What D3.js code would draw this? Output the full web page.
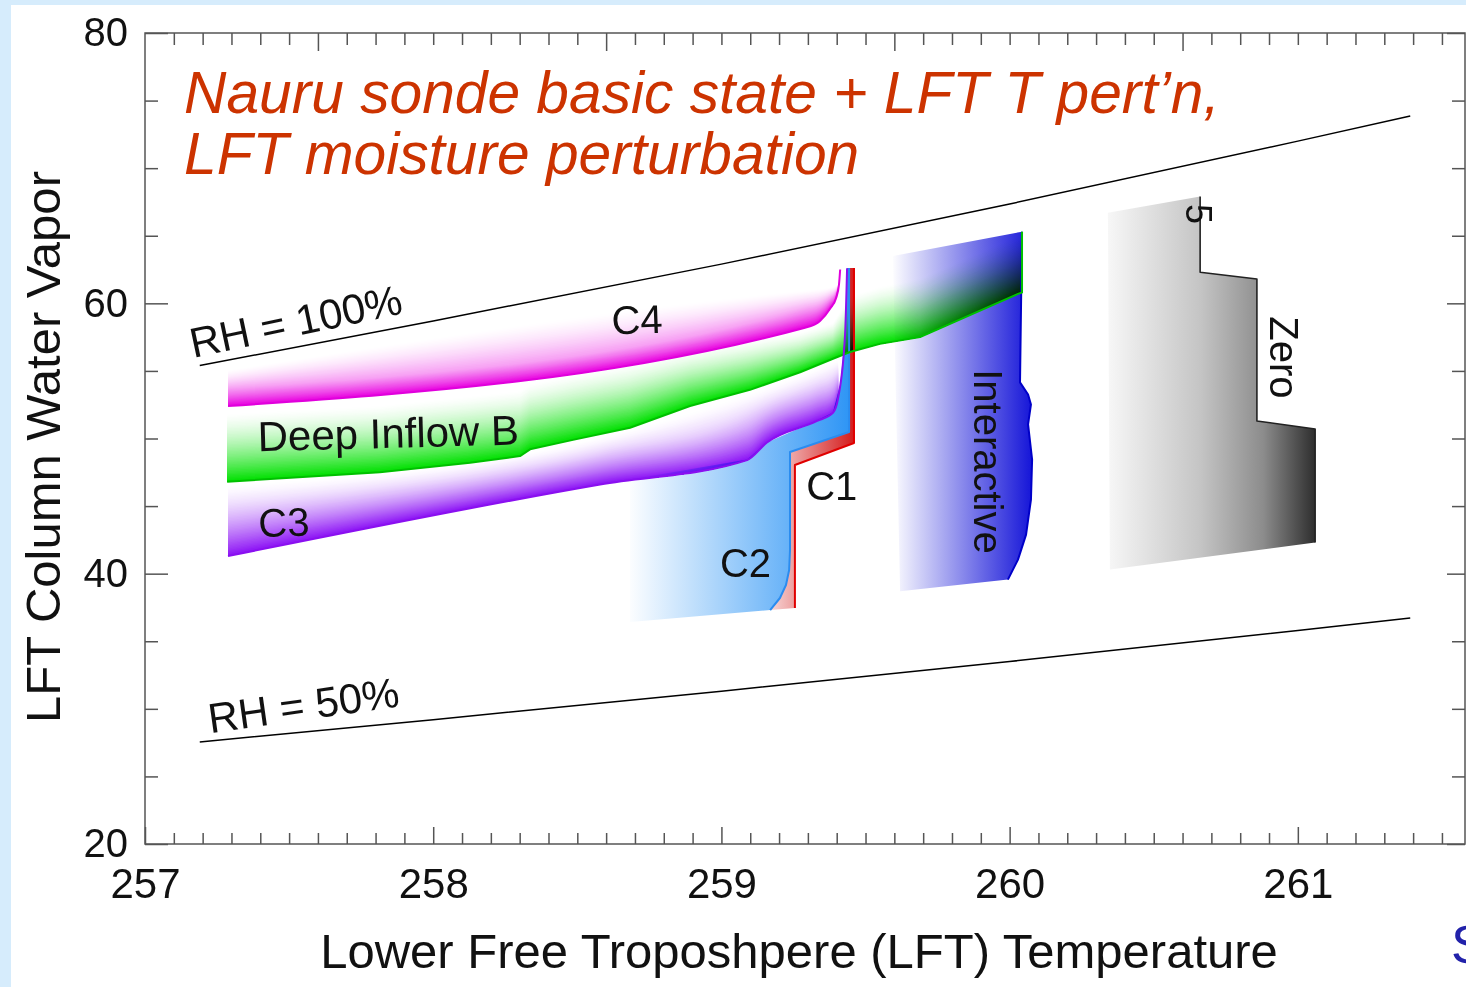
<!DOCTYPE html>
<html>
<head>
<meta charset="utf-8">
<script src="https://cdn.jsdelivr.net/npm/d3@7"></script>
<style>
html, body { margin: 0; padding: 0; background: #d6ecfc; }
svg { display: block; }
text { font-family: "Liberation Sans", Arial, Helvetica, sans-serif; }
</style>
</head>
<body>
<script>
const d3 = window.d3;
const width = 1466, height = 987;

// axis ticks
const xTickLabels = [257, 258, 259, 260, 261];
const yTickLabels = [20, 40, 60, 80];

// saturation curves
const rhT = [257.19, 258, 259, 260, 261, 261.39];
const rh100W = [55.4, 58.7, 62.9, 67.35, 72.0, 73.86];
const rh50W = [27.55, 29.2, 31.3, 33.5, 35.8, 36.72];

// C4: lower edge (strong) and upper edge (faded)
const c4T = [257.288, 259.290, 259.342, 259.377, 259.398, 259.408];
const c4Lo = [52.4, 58.2, 58.7, 59.6, 60.4, 61.4];
const c4Hi = [55.1, 61.0, 61.1, 61.2, 61.3, 61.4];
const c4Tip = [259.412, 62.5];

// Deep Inflow B
const dibT = [257.285, 257.815, 258.128, 258.301, 258.336, 258.485, 258.683, 258.891, 259.099, 259.273, 259.387, 259.446, 259.550, 259.689, 260.029, 260.043];
const dibLo = [46.8, 47.5, 48.2, 48.7, 49.2, 49.9, 50.8, 52.4, 53.6, 54.9, 55.9, 56.4, 57.0, 57.5, 60.7, 60.8];
const dibHi = [51.9, 52.5, 53.2, 53.6, 54.1, 54.8, 55.6, 56.6, 57.3, 57.9, 58.6, 60.6, 61.3, 61.9, 65.1, 65.3];
const dibTip = [260.043, 65.3];

// C3
const c3T = [257.288, 258.579, 259.089, 259.158, 259.332, 259.387, 259.405];
const c3Lo = [41.3, 46.6, 48.4, 49.7, 51.3, 51.9, 53.0];
const c3Hi = [46.6, 50.1, 53.3, 53.8, 55.2, 55.7, 55.8];
const c3TipT = [259.429, 259.436];
const c3TipW = [57.7, 62.6];

// C2: upper boundary, right boundary (blue line), lower-left corner
const c2TopT = [258.683, 259.089, 259.158, 259.332, 259.387, 259.412, 259.429, 259.436];
const c2TopW = [46.96, 48.44, 49.70, 51.33, 51.93, 54.0, 57.7, 62.61];
const c2EdgeT = [259.443, 259.443, 259.238, 259.238, 259.235, 259.224, 259.203, 259.169];
const c2EdgeW = [62.61, 50.48, 49.0, 41.75, 40.27, 39.16, 38.2, 37.31];
const c2Corner = [258.683, 36.42];

// C1: right boundary (red line)
const c1EdgeT = [259.460, 259.460, 259.255, 259.255];
const c1EdgeW = [62.61, 49.67, 48.04, 37.46];

// Interactive
const intEdgeT = [260.043, 260.036, 260.064, 260.074, 260.064, 260.078, 260.074, 260.057, 260.029, 259.994];
const intEdgeW = [65.3, 54.15, 53.26, 52.52, 51.04, 48.44, 45.48, 42.89, 41.04, 39.56];
const intTopLeft = [259.595, 63.5];
const intBottomLeft = [259.620, 38.7];

// Zero
const zeroEdgeT = [260.661, 260.661, 260.858, 260.858, 261.060, 261.060];
const zeroEdgeW = [67.9, 62.3, 61.8, 51.3, 50.7, 42.3];
const zeroTopLeft = [260.341, 66.7];
const zeroBottomLeft = [260.348, 40.3];

const svg = d3.select("body")
    .append("svg")
    .attr("width", width)
    .attr("height", height);

svg.append("rect")
    .attr("x", 11).attr("y", 5)
    .attr("width", width - 11).attr("height", height - 5)
    .attr("fill", "#fff");

const defs = svg.append("defs");

const x = d3.scaleLinear().domain([257, 261.58]).range([145, 1465]);
const y = d3.scaleLinear().domain([20, 80]).range([844, 33]);

const line = d3.line().x(d => x(d[0])).y(d => y(d[1]));

function hGradient(id, t0, t1, stops) {
    const g = defs.append("linearGradient")
        .attr("id", id)
        .attr("gradientUnits", "userSpaceOnUse")
        .attr("x1", x(t0)).attr("x2", x(t1))
        .attr("y1", 0).attr("y2", 0);
    stops.forEach(([o, c]) => g.append("stop").attr("offset", o).attr("stop-color", c));
}

function region(pts, gradId) {
    svg.append("path")
        .attr("d", line(pts) + "Z")
        .attr("fill", `url(#${gradId})`)
        .style("mix-blend-mode", "multiply");
}

// band fading from colour at the lower edge to white at the upper edge
function band(T, lo, hi, color, curve, n = 48) {
    const g = svg.append("g").style("mix-blend-mode", "multiply");
    const fade = d3.interpolateRgb(color, "#fff");
    const pts = T.map((t, i) => ({t, lo: lo[i], hi: hi[i]}));
    for (let k = n - 1; k >= 0; k--) {
        const f = (k + 1) / n;
        const s = (k + 0.5) / n;
        g.append("path")
            .attr("d", d3.area()
                .curve(curve)
                .x(d => x(d.t))
                .y0(d => y(d.lo))
                .y1(d => y(d.lo + (d.hi - d.lo) * f))(pts))
            .attr("fill", fade(1 - Math.pow(1 - s, 1.5)));
    }
}

function edge(pts, color, w, curve = d3.curveLinear) {
    svg.append("path")
        .attr("d", d3.line().curve(curve).x(d => x(d[0])).y(d => y(d[1]))(pts))
        .attr("fill", "none")
        .attr("stroke", color)
        .attr("stroke-width", w)
        .attr("stroke-linejoin", "round");
}

hGradient("gZero", 260.34, 261.06, [[0, "#f7f7f7"], [0.45, "#c4c4c4"], [0.75, "#8c8c8c"], [1, "#2e2e2e"]]);
hGradient("gInt", 259.59, 260.08, [[0, "#ffffff"], [1, "#1414d8"]]);
hGradient("gC2", 258.67, 259.445, [[0, "#ffffff"], [1, "#2e95f5"]]);
hGradient("gC1", 259.15, 259.46, [[0, "#f9e2e2"], [1, "#d41c1c"]]);

const zeroEdge = d3.zip(zeroEdgeT, zeroEdgeW);
const intEdge = d3.zip(intEdgeT, intEdgeW);
const c2Edge = d3.zip(c2EdgeT, c2EdgeW);
const c1Edge = d3.zip(c1EdgeT, c1EdgeW);

region([zeroTopLeft, ...zeroEdge, zeroBottomLeft], "gZero");
region([intTopLeft, ...intEdge, intBottomLeft], "gInt");
region([...d3.zip(c2TopT, c2TopW), ...c2Edge, c2Corner], "gC2");
region([...c2Edge, ...c1Edge.slice().reverse()], "gC1");

band(c4T, c4Lo, c4Hi, "#e800e0", d3.curveMonotoneX);
band(dibT, dibLo, dibHi, "#00e000", d3.curveLinear);
band(c3T, c3Lo, c3Hi, "#8c12f5", d3.curveMonotoneX);

edge(zeroEdge, "#222", 1.6);
edge(intEdge, "#0000c8", 2);
edge(c2Edge, "#2a8cf0", 2);
edge(c1Edge, "#e00000", 2);
edge([...d3.zip(c4T, c4Lo), c4Tip], "#e000dc", 2, d3.curveMonotoneX);
edge([...d3.zip(dibT, dibLo), dibTip], "#00c000", 2);
edge([...d3.zip(c3T, c3Lo), ...d3.zip(c3TipT, c3TipW)], "#8a10f0", 2, d3.curveMonotoneX);

edge(d3.zip(rhT, rh100W), "#000", 1.5, d3.curveMonotoneX);
edge(d3.zip(rhT, rh50W), "#000", 1.5, d3.curveMonotoneX);

// labels, anchored in data units
const labels = [
    {text: "C4", t: 258.62, w: 57.7, rot: -2, size: 40},
    {text: "Deep Inflow B", t: 257.392, w: 49.05, rot: -1.5, size: 42},
    {text: "C3", t: 257.395, w: 42.7, rot: -2, size: 40},
    {text: "C2", t: 258.995, w: 39.75, rot: 0, size: 40},
    {text: "C1", t: 259.294, w: 45.45, rot: 0, size: 40},
    {text: "RH = 100%", t: 257.167, w: 55.95, rot: -12, size: 42},
    {text: "RH = 50%", t: 257.226, w: 28.2, rot: -8, size: 42},
];
labels.forEach(l => {
    svg.append("text")
        .attr("transform", `translate(${x(l.t)},${y(l.w)}) rotate(${l.rot})`)
        .attr("font-size", l.size)
        .attr("fill", "#111")
        .text(l.text);
});

const vLabels = [
    {text: "Interactive", t: 259.877, w: 48.3, size: 40},
    {text: "Zero", t: 260.905, w: 56.0, size: 40},
    {text: "5", t: 260.612, w: 66.6, size: 36},
];
vLabels.forEach(l => {
    svg.append("text")
        .attr("transform", `translate(${x(l.t)},${y(l.w)}) rotate(90)`)
        .attr("text-anchor", "middle")
        .attr("font-size", l.size)
        .attr("fill", "#111")
        .text(l.text);
});

// axes
const xMinor = d3.range(2571, 2616).filter(v => v % 10 !== 0).map(v => v / 10);
const xTopMinor = d3.range(2571, 2616).filter(v => v % 10 !== 6).map(v => v / 10);
const xTopMajor = [2576, 2586, 2596, 2606].map(v => v / 10);
const yMinor = d3.range(20, 81, 5).filter(v => v % 20 !== 0);

function styleAxis(size) {
    return g => {
        g.select(".domain").remove();
        g.selectAll("line").attr("stroke", "#555").attr("stroke-width", 1.5);
        g.selectAll("text")
            .attr("font-size", size)
            .attr("fill", "#111")
            .attr("font-family", "\"Liberation Sans\", Arial, Helvetica, sans-serif");
    };
}

svg.append("g")
    .attr("transform", `translate(0,${y(20)})`)
    .call(d3.axisBottom(x).tickValues(xMinor).tickSize(-11).tickFormat(""))
    .call(styleAxis(42));
svg.append("g")
    .attr("transform", `translate(0,${y(20)})`)
    .call(d3.axisBottom(x).tickValues(xTickLabels).tickSize(-17).tickPadding(24).tickFormat(d3.format("d")))
    .call(styleAxis(42));
svg.append("g")
    .attr("transform", `translate(0,${y(80)})`)
    .call(d3.axisTop(x).tickValues(xTopMinor).tickSize(-12).tickFormat(""))
    .call(styleAxis(42));
svg.append("g")
    .attr("transform", `translate(0,${y(80)})`)
    .call(d3.axisTop(x).tickValues(xTopMajor).tickSize(-18).tickFormat(""))
    .call(styleAxis(42));
svg.append("g")
    .attr("transform", `translate(${x(257)},0)`)
    .call(d3.axisLeft(y).tickValues(yMinor).tickSize(-13).tickFormat(""))
    .call(styleAxis(40));
svg.append("g")
    .attr("transform", `translate(${x(257)},0)`)
    .call(d3.axisLeft(y).tickValues(yTickLabels).tickSize(-23).tickPadding(17).tickFormat(d3.format("d")))
    .call(styleAxis(40));
svg.append("g")
    .attr("transform", `translate(${x.range()[1]},0)`)
    .call(d3.axisRight(y).tickValues(yMinor).tickSize(-13).tickFormat(""))
    .call(styleAxis(40));
svg.append("g")
    .attr("transform", `translate(${x.range()[1]},0)`)
    .call(d3.axisRight(y).tickValues(yTickLabels).tickSize(-18).tickFormat(""))
    .call(styleAxis(40));

svg.append("rect")
    .attr("x", x.range()[0]).attr("y", y.range()[1])
    .attr("width", x.range()[1] - x.range()[0])
    .attr("height", y.range()[0] - y.range()[1])
    .attr("fill", "none")
    .attr("stroke", "#555")
    .attr("stroke-width", 1.5);

// titles
svg.append("text")
    .attr("x", 799).attr("y", 968)
    .attr("text-anchor", "middle")
    .attr("font-size", 49)
    .attr("fill", "#111")
    .text("Lower Free Troposhpere (LFT) Temperature");

svg.append("text")
    .attr("transform", "translate(60,447) rotate(-90)")
    .attr("text-anchor", "middle")
    .attr("font-size", 49)
    .attr("fill", "#111")
    .text("LFT Column Water Vapor");

const title = svg.append("text")
    .attr("font-size", 58.7)
    .attr("font-style", "italic")
    .attr("fill", "#cc3300");
title.append("tspan").attr("x", 184).attr("y", 113).text("Nauru sonde basic state + LFT T pert\u2019n,");
title.append("tspan").attr("x", 184).attr("y", 174).text("LFT moisture perturbation");

svg.append("text")
    .attr("x", 1451).attr("y", 963)
    .attr("font-family", "\"Liberation Serif\", \"Times New Roman\", serif")
    .attr("font-size", 54)
    .attr("fill", "#2222aa")
    .text("S");
</script>
</body>
</html>
